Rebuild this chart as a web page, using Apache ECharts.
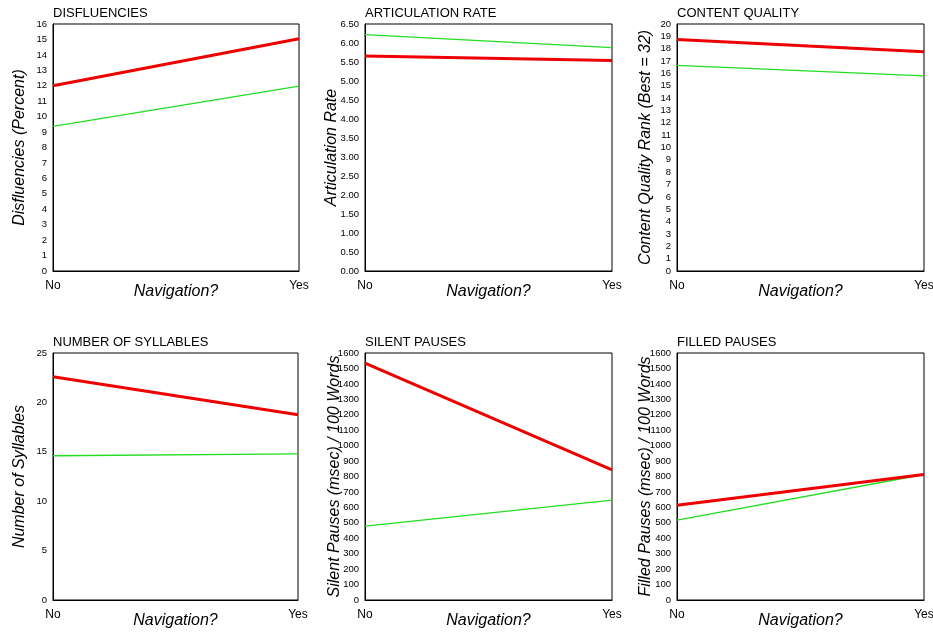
<!DOCTYPE html>
<html>
<head>
<meta charset="utf-8">
<script src="https://cdn.jsdelivr.net/npm/echarts@6/dist/echarts.min.js"></script>
<style>html,body{margin:0;padding:0;background:#fff}#c{width:933px;height:632px}</style>
</head>
<body>
<div id="c"></div>
<script>
const categories = ['No', 'Yes'];
const titles = ['DISFLUENCIES', 'ARTICULATION RATE', 'CONTENT QUALITY', 'NUMBER OF SYLLABLES', 'SILENT PAUSES', 'FILLED PAUSES'];
const yNames = ['Disfluencies (Percent)', 'Articulation Rate', 'Content Quality Rank (Best = 32)', 'Number of Syllables', 'Silent Pauses (msec) / 100 Words', 'Filled Pauses (msec) / 100 Words'];
const yMax = [16, 6.5, 20, 25, 1600, 1600];
const yInterval = [1, 0.5, 1, 5, 100, 100];
const yDecimals = [0, 2, 0, 0, 0, 0];
const redSeries = [
  [12.0, 15.05],
  [5.66, 5.54],
  [18.75, 17.75],
  [22.6, 18.75],
  [1535, 843],
  [614, 813]
];
const greenSeries = [
  [9.37, 11.98],
  [6.22, 5.88],
  [16.65, 15.8],
  [14.6, 14.8],
  [478, 647],
  [517, 813]
];

const FONT = '"Liberation Sans", Arial, Helvetica, sans-serif';
const gridPos = [
  {left: 53, top: 24, width: 246, height: 247},
  {left: 365, top: 24, width: 247, height: 247},
  {left: 677, top: 24, width: 247, height: 247},
  {left: 53, top: 353, width: 245, height: 247},
  {left: 365, top: 353, width: 247, height: 247},
  {left: 677, top: 353, width: 247, height: 247}
];
const nameGaps = [25, 25, 23, 25, 22, 23];

const grid = [], xAxis = [], yAxis = [], series = [], title = [];
for (let i = 0; i < 6; i++) {
  const g = gridPos[i];
  grid.push(Object.assign({show: true, borderColor: '#000', borderWidth: 1, backgroundColor: '#fff',
    containLabel: false, outerBoundsMode: 'none'}, g));
  title.push({
    text: titles[i], left: g.left, top: g.top - 17, padding: 0,
    textStyle: {fontFamily: FONT, fontSize: 13, fontWeight: 'normal', color: '#000'}
  });
  xAxis.push({
    gridIndex: i, type: 'category', data: categories, boundaryGap: false,
    axisLine: {lineStyle: {color: '#000'}}, axisTick: {show: false},
    axisLabel: {fontFamily: FONT, fontSize: 12, color: '#000', margin: 9},
    splitLine: {show: false},
    name: 'Navigation?', nameLocation: 'middle', nameGap: 13, nameMoveOverlap: false,
    nameTextStyle: {fontFamily: FONT, fontSize: 16, fontStyle: 'italic', color: '#000'}
  });
  yAxis.push({
    gridIndex: i, type: 'value', min: 0, max: yMax[i], interval: yInterval[i],
    axisLine: {show: true, lineStyle: {color: '#000'}}, axisTick: {show: false},
    splitLine: {show: false},
    axisLabel: {fontFamily: FONT, fontSize: 9.5, color: '#000', margin: 6,
      formatter: (v) => v.toFixed(yDecimals[i])},
    name: yNames[i], nameLocation: 'middle', nameRotate: 90, nameGap: nameGaps[i], nameMoveOverlap: false,
    nameTextStyle: {fontFamily: FONT, fontSize: 16, fontStyle: 'italic', color: '#000'}
  });
  series.push({
    type: 'line', xAxisIndex: i, yAxisIndex: i, data: greenSeries[i],
    symbol: 'none', lineStyle: {color: '#22dd22', width: 1.3}, z: 2
  });
  series.push({
    type: 'line', xAxisIndex: i, yAxisIndex: i, data: redSeries[i],
    symbol: 'none', lineStyle: {color: '#ee0000', width: 3}, z: 3
  });
}

const chart = echarts.init(document.getElementById('c'), null, {renderer: 'canvas'});
chart.setOption({animation: false, backgroundColor: '#fff', title, grid, xAxis, yAxis, series});
</script>
</body>
</html>
